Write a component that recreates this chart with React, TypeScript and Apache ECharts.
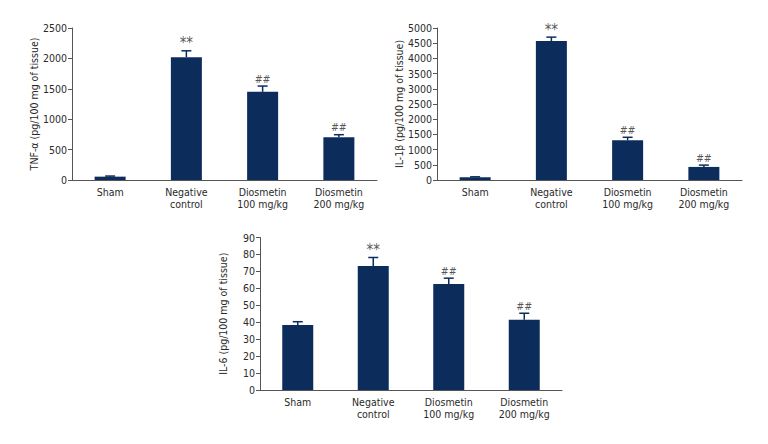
import React, { useEffect, useRef } from "react";
import * as echarts from "echarts";

const categories = ["Sham", "Negative\ncontrol", "Diosmetin\n100 mg/kg", "Diosmetin\n200 mg/kg"];
const annotations = ["", "**", "##", "##"];

const tnfValues = [55, 2020, 1450, 705];
const tnfErrors = [10, 105, 95, 40];

const il1bValues = [90, 4570, 1305, 430];
const il1bErrors = [15, 130, 100, 60];

const il6Values = [38.3, 73.2, 62.5, 41.5];
const il6Errors = [2, 5, 3.5, 3.8];

const panels = [
  { name: "TNF-α (pg/100 mg of tissue)", values: tnfValues, errors: tnfErrors, max: 2500, interval: 500 },
  { name: "IL-1β (pg/100 mg of tissue)", values: il1bValues, errors: il1bErrors, max: 5000, interval: 500 },
  { name: "IL-6 (pg/100 mg of tissue)", values: il6Values, errors: il6Errors, max: 90, interval: 10 },
];

const grids = [
  { left: 72, top: 28, width: 305, height: 152 },
  { left: 437, top: 28, width: 305, height: 152 },
  { left: 260, top: 237.5, width: 302, height: 152.5 },
];

const FONT = "'Liberation Sans Narrow', 'DejaVu Sans Condensed', 'Arial Narrow', sans-serif";
const BAR = "#0c2d5b";
const AXIS = "#555555";
const TEXT = "#2a2a2a";

export default function App() {
  const ref = useRef<HTMLDivElement>(null);
  useEffect(() => {
    if (!ref.current) return;
    const chart = echarts.init(ref.current, undefined, { renderer: "svg" });
    const xAxis: any[] = [];
    const yAxis: any[] = [];
    const series: any[] = [];
    panels.forEach((p, i) => {
      xAxis.push({
        type: "category",
        gridIndex: i,
        data: categories,
        axisLine: { lineStyle: { color: AXIS, width: 1 } },
        axisTick: { show: false },
        axisLabel: { interval: 0, color: TEXT, fontFamily: FONT, fontSize: 10.5, margin: 6, lineHeight: 12 },
      });
      yAxis.push({
        type: "value",
        gridIndex: i,
        min: 0,
        max: p.max,
        interval: p.interval,
        name: p.name,
        nameLocation: "middle",
        nameGap: i === 2 ? 32 : 33,
        nameTextStyle: { color: TEXT, fontFamily: FONT, fontSize: 10.5 },
        splitLine: { show: false },
        axisLine: { show: true, lineStyle: { color: AXIS, width: 1 } },
        axisTick: { show: true, length: 4, lineStyle: { color: AXIS } },
        axisLabel: {
          color: TEXT,
          fontFamily: FONT,
          fontSize: 10.5,
          margin: 5,
          formatter: (v: number) => String(v),
        },
      });
      series.push({
        type: "bar",
        xAxisIndex: i,
        yAxisIndex: i,
        data: p.values,
        barWidth: 31,
        itemStyle: { color: BAR },
        z: 2,
      });
      series.push({
        type: "custom",
        xAxisIndex: i,
        yAxisIndex: i,
        z: 3,
        encode: { x: 0, y: [1, 2] },
        data: p.values.map((v, k) => [k, v + p.errors[k], v]),
        renderItem: (params: any, api: any) => {
          const x = api.value(0);
          const top = api.coord([x, api.value(1)]);
          const bottom = api.coord([x, api.value(2)]);
          const half = 5;
          const style = { stroke: BAR, lineWidth: 1.5 };
          return {
            type: "group",
            children: [
              { type: "line", shape: { x1: top[0], y1: top[1], x2: bottom[0], y2: bottom[1] }, style },
              { type: "line", shape: { x1: top[0] - half, y1: top[1], x2: top[0] + half, y2: top[1] }, style },
            ],
          };
        },
      });
      series.push({
        type: "scatter",
        xAxisIndex: i,
        yAxisIndex: i,
        symbolSize: 0,
        data: p.values.map((v, k) => ({
          value: [k, v + p.errors[k]],
          label: {
            fontSize: annotations[k] === "**" ? 15 : 10.5,
            distance: annotations[k] === "**" ? 0 : 2,
          },
        })),
        label: {
          show: true,
          position: "top",
          color: TEXT,
          fontFamily: FONT,
          formatter: (d: any) => annotations[d.dataIndex],
        },
        z: 4,
      });
    });
    chart.setOption({
      animation: false,
      backgroundColor: "#ffffff",
      grid: grids.map((g) => ({ ...g, containLabel: false })),
      xAxis,
      yAxis,
      series,
    });
    return () => chart.dispose();
  }, []);
  return (
    <div
      ref={ref}
      style={{ position: "fixed", left: 0, top: 0, width: 768, height: 444, background: "#fff" }}
    />
  );
}
